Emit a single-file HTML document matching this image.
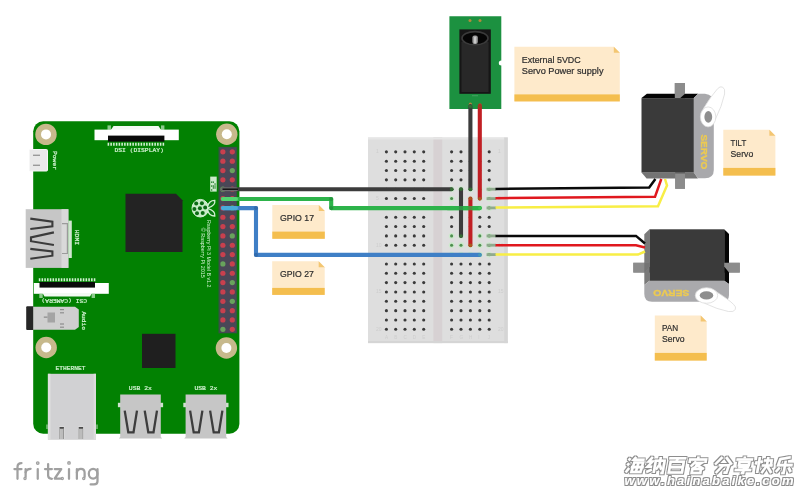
<!DOCTYPE html>
<html><head><meta charset="utf-8"><title>Pan Tilt wiring</title>
<style>html,body{margin:0;padding:0;background:#fff}svg{display:block;filter:blur(0.5px)}text{font-family:"Liberation Sans",sans-serif}.m{font-family:"Liberation Mono",monospace;font-size:6px;fill:#d2f2d2;stroke:#d2f2d2;stroke-width:0.22px}.s{font-size:5.1px;fill:#d0f0d0}.n{fill:#2e2e2e;stroke:#2e2e2e;stroke-width:0.22px}.sv{font-weight:bold;font-size:9.6px;fill:#ecca52;stroke:#ecca52;stroke-width:0.35px}</style></head><body>
<svg width="800" height="491" viewBox="0 0 800 491">
<rect width="800" height="491" fill="#ffffff"/>
<g id="bb">
<rect x="368" y="137.5" width="139.7" height="205.6" fill="#dedede"/>
<rect x="433.4" y="137.5" width="8.8" height="205.6" fill="#d7d1d3"/>
<rect x="368" y="137.5" width="139.7" height="2" fill="#e6e6e6"/>
<rect x="504.2" y="137.5" width="3.5" height="205.6" fill="#d5d5d5"/><rect x="368" y="341" width="139.7" height="2.1" fill="#d5d5d5"/>
<circle cx="386.4" cy="151.85" r="1.55" fill="#3a3a3a"/>
<circle cx="395.7" cy="151.85" r="1.55" fill="#3a3a3a"/>
<circle cx="405.0" cy="151.85" r="1.55" fill="#3a3a3a"/>
<circle cx="414.3" cy="151.85" r="1.55" fill="#3a3a3a"/>
<circle cx="423.7" cy="151.85" r="1.55" fill="#3a3a3a"/>
<circle cx="451.6" cy="151.85" r="1.55" fill="#3a3a3a"/>
<circle cx="461.0" cy="151.85" r="1.55" fill="#3a3a3a"/>
<circle cx="470.4" cy="151.85" r="1.55" fill="#3a3a3a"/>
<circle cx="479.8" cy="151.85" r="1.55" fill="#3a3a3a"/>
<circle cx="489.2" cy="151.85" r="1.55" fill="#3a3a3a"/>
<circle cx="386.4" cy="161.19" r="1.55" fill="#3a3a3a"/>
<circle cx="395.7" cy="161.19" r="1.55" fill="#3a3a3a"/>
<circle cx="405.0" cy="161.19" r="1.55" fill="#3a3a3a"/>
<circle cx="414.3" cy="161.19" r="1.55" fill="#3a3a3a"/>
<circle cx="423.7" cy="161.19" r="1.55" fill="#3a3a3a"/>
<circle cx="451.6" cy="161.19" r="1.55" fill="#3a3a3a"/>
<circle cx="461.0" cy="161.19" r="1.55" fill="#3a3a3a"/>
<circle cx="470.4" cy="161.19" r="1.55" fill="#3a3a3a"/>
<circle cx="479.8" cy="161.19" r="1.55" fill="#3a3a3a"/>
<circle cx="489.2" cy="161.19" r="1.55" fill="#3a3a3a"/>
<circle cx="386.4" cy="170.53" r="1.55" fill="#3a3a3a"/>
<circle cx="395.7" cy="170.53" r="1.55" fill="#3a3a3a"/>
<circle cx="405.0" cy="170.53" r="1.55" fill="#3a3a3a"/>
<circle cx="414.3" cy="170.53" r="1.55" fill="#3a3a3a"/>
<circle cx="423.7" cy="170.53" r="1.55" fill="#3a3a3a"/>
<circle cx="451.6" cy="170.53" r="1.55" fill="#3a3a3a"/>
<circle cx="461.0" cy="170.53" r="1.55" fill="#3a3a3a"/>
<circle cx="470.4" cy="170.53" r="1.55" fill="#3a3a3a"/>
<circle cx="479.8" cy="170.53" r="1.55" fill="#3a3a3a"/>
<circle cx="489.2" cy="170.53" r="1.55" fill="#3a3a3a"/>
<circle cx="386.4" cy="179.87" r="1.55" fill="#3a3a3a"/>
<circle cx="395.7" cy="179.87" r="1.55" fill="#3a3a3a"/>
<circle cx="405.0" cy="179.87" r="1.55" fill="#3a3a3a"/>
<circle cx="414.3" cy="179.87" r="1.55" fill="#3a3a3a"/>
<circle cx="423.7" cy="179.87" r="1.55" fill="#3a3a3a"/>
<circle cx="451.6" cy="179.87" r="1.55" fill="#3a3a3a"/>
<circle cx="461.0" cy="179.87" r="1.55" fill="#3a3a3a"/>
<circle cx="470.4" cy="179.87" r="1.55" fill="#3a3a3a"/>
<circle cx="479.8" cy="179.87" r="1.55" fill="#3a3a3a"/>
<circle cx="489.2" cy="179.87" r="1.55" fill="#3a3a3a"/>
<circle cx="386.4" cy="189.21" r="1.55" fill="#3a3a3a"/>
<circle cx="395.7" cy="189.21" r="1.55" fill="#3a3a3a"/>
<circle cx="405.0" cy="189.21" r="1.55" fill="#3a3a3a"/>
<circle cx="414.3" cy="189.21" r="1.55" fill="#3a3a3a"/>
<circle cx="423.7" cy="189.21" r="1.55" fill="#3a3a3a"/>
<circle cx="451.6" cy="189.21" r="2.9" fill="#cde8cd"/>
<circle cx="451.6" cy="189.21" r="1.55" fill="#4f8f4f"/>
<circle cx="461.0" cy="189.21" r="2.9" fill="#cde8cd"/>
<circle cx="461.0" cy="189.21" r="1.55" fill="#4f8f4f"/>
<circle cx="470.4" cy="189.21" r="2.9" fill="#cde8cd"/>
<circle cx="470.4" cy="189.21" r="1.55" fill="#4f8f4f"/>
<circle cx="479.8" cy="189.21" r="2.9" fill="#cde8cd"/>
<circle cx="479.8" cy="189.21" r="1.55" fill="#4f8f4f"/>
<circle cx="489.2" cy="189.21" r="2.9" fill="#cde8cd"/>
<circle cx="489.2" cy="189.21" r="1.55" fill="#4f8f4f"/>
<circle cx="386.4" cy="198.55" r="1.55" fill="#3a3a3a"/>
<circle cx="395.7" cy="198.55" r="1.55" fill="#3a3a3a"/>
<circle cx="405.0" cy="198.55" r="1.55" fill="#3a3a3a"/>
<circle cx="414.3" cy="198.55" r="1.55" fill="#3a3a3a"/>
<circle cx="423.7" cy="198.55" r="1.55" fill="#3a3a3a"/>
<circle cx="451.6" cy="198.55" r="2.9" fill="#cde8cd"/>
<circle cx="451.6" cy="198.55" r="1.55" fill="#4f8f4f"/>
<circle cx="461.0" cy="198.55" r="2.9" fill="#cde8cd"/>
<circle cx="461.0" cy="198.55" r="1.55" fill="#4f8f4f"/>
<circle cx="470.4" cy="198.55" r="2.9" fill="#cde8cd"/>
<circle cx="470.4" cy="198.55" r="1.55" fill="#4f8f4f"/>
<circle cx="479.8" cy="198.55" r="2.9" fill="#cde8cd"/>
<circle cx="479.8" cy="198.55" r="1.55" fill="#4f8f4f"/>
<circle cx="489.2" cy="198.55" r="2.9" fill="#cde8cd"/>
<circle cx="489.2" cy="198.55" r="1.55" fill="#4f8f4f"/>
<circle cx="386.4" cy="207.89" r="1.55" fill="#3a3a3a"/>
<circle cx="395.7" cy="207.89" r="1.55" fill="#3a3a3a"/>
<circle cx="405.0" cy="207.89" r="1.55" fill="#3a3a3a"/>
<circle cx="414.3" cy="207.89" r="1.55" fill="#3a3a3a"/>
<circle cx="423.7" cy="207.89" r="1.55" fill="#3a3a3a"/>
<circle cx="451.6" cy="207.89" r="2.9" fill="#cde8cd"/>
<circle cx="451.6" cy="207.89" r="1.55" fill="#4f8f4f"/>
<circle cx="461.0" cy="207.89" r="2.9" fill="#cde8cd"/>
<circle cx="461.0" cy="207.89" r="1.55" fill="#4f8f4f"/>
<circle cx="470.4" cy="207.89" r="2.9" fill="#cde8cd"/>
<circle cx="470.4" cy="207.89" r="1.55" fill="#4f8f4f"/>
<circle cx="479.8" cy="207.89" r="2.9" fill="#cde8cd"/>
<circle cx="479.8" cy="207.89" r="1.55" fill="#4f8f4f"/>
<circle cx="489.2" cy="207.89" r="2.9" fill="#cde8cd"/>
<circle cx="489.2" cy="207.89" r="1.55" fill="#4f8f4f"/>
<circle cx="386.4" cy="217.23" r="1.55" fill="#3a3a3a"/>
<circle cx="395.7" cy="217.23" r="1.55" fill="#3a3a3a"/>
<circle cx="405.0" cy="217.23" r="1.55" fill="#3a3a3a"/>
<circle cx="414.3" cy="217.23" r="1.55" fill="#3a3a3a"/>
<circle cx="423.7" cy="217.23" r="1.55" fill="#3a3a3a"/>
<circle cx="451.6" cy="217.23" r="1.55" fill="#3a3a3a"/>
<circle cx="461.0" cy="217.23" r="1.55" fill="#3a3a3a"/>
<circle cx="470.4" cy="217.23" r="1.55" fill="#3a3a3a"/>
<circle cx="479.8" cy="217.23" r="1.55" fill="#3a3a3a"/>
<circle cx="489.2" cy="217.23" r="1.55" fill="#3a3a3a"/>
<circle cx="386.4" cy="226.57" r="1.55" fill="#3a3a3a"/>
<circle cx="395.7" cy="226.57" r="1.55" fill="#3a3a3a"/>
<circle cx="405.0" cy="226.57" r="1.55" fill="#3a3a3a"/>
<circle cx="414.3" cy="226.57" r="1.55" fill="#3a3a3a"/>
<circle cx="423.7" cy="226.57" r="1.55" fill="#3a3a3a"/>
<circle cx="451.6" cy="226.57" r="1.55" fill="#3a3a3a"/>
<circle cx="461.0" cy="226.57" r="1.55" fill="#3a3a3a"/>
<circle cx="470.4" cy="226.57" r="1.55" fill="#3a3a3a"/>
<circle cx="479.8" cy="226.57" r="1.55" fill="#3a3a3a"/>
<circle cx="489.2" cy="226.57" r="1.55" fill="#3a3a3a"/>
<circle cx="386.4" cy="235.91" r="1.55" fill="#3a3a3a"/>
<circle cx="395.7" cy="235.91" r="1.55" fill="#3a3a3a"/>
<circle cx="405.0" cy="235.91" r="1.55" fill="#3a3a3a"/>
<circle cx="414.3" cy="235.91" r="1.55" fill="#3a3a3a"/>
<circle cx="423.7" cy="235.91" r="1.55" fill="#3a3a3a"/>
<circle cx="451.6" cy="235.91" r="2.9" fill="#cde8cd"/>
<circle cx="451.6" cy="235.91" r="1.55" fill="#4f8f4f"/>
<circle cx="461.0" cy="235.91" r="2.9" fill="#cde8cd"/>
<circle cx="461.0" cy="235.91" r="1.55" fill="#4f8f4f"/>
<circle cx="470.4" cy="235.91" r="2.9" fill="#cde8cd"/>
<circle cx="470.4" cy="235.91" r="1.55" fill="#4f8f4f"/>
<circle cx="479.8" cy="235.91" r="2.9" fill="#cde8cd"/>
<circle cx="479.8" cy="235.91" r="1.55" fill="#4f8f4f"/>
<circle cx="489.2" cy="235.91" r="2.9" fill="#cde8cd"/>
<circle cx="489.2" cy="235.91" r="1.55" fill="#4f8f4f"/>
<circle cx="386.4" cy="245.25" r="1.55" fill="#3a3a3a"/>
<circle cx="395.7" cy="245.25" r="1.55" fill="#3a3a3a"/>
<circle cx="405.0" cy="245.25" r="1.55" fill="#3a3a3a"/>
<circle cx="414.3" cy="245.25" r="1.55" fill="#3a3a3a"/>
<circle cx="423.7" cy="245.25" r="1.55" fill="#3a3a3a"/>
<circle cx="451.6" cy="245.25" r="2.9" fill="#cde8cd"/>
<circle cx="451.6" cy="245.25" r="1.55" fill="#4f8f4f"/>
<circle cx="461.0" cy="245.25" r="2.9" fill="#cde8cd"/>
<circle cx="461.0" cy="245.25" r="1.55" fill="#4f8f4f"/>
<circle cx="470.4" cy="245.25" r="2.9" fill="#cde8cd"/>
<circle cx="470.4" cy="245.25" r="1.55" fill="#4f8f4f"/>
<circle cx="479.8" cy="245.25" r="2.9" fill="#cde8cd"/>
<circle cx="479.8" cy="245.25" r="1.55" fill="#4f8f4f"/>
<circle cx="489.2" cy="245.25" r="2.9" fill="#cde8cd"/>
<circle cx="489.2" cy="245.25" r="1.55" fill="#4f8f4f"/>
<circle cx="386.4" cy="254.59" r="1.55" fill="#3a3a3a"/>
<circle cx="395.7" cy="254.59" r="1.55" fill="#3a3a3a"/>
<circle cx="405.0" cy="254.59" r="1.55" fill="#3a3a3a"/>
<circle cx="414.3" cy="254.59" r="1.55" fill="#3a3a3a"/>
<circle cx="423.7" cy="254.59" r="1.55" fill="#3a3a3a"/>
<circle cx="451.6" cy="254.59" r="2.9" fill="#cde8cd"/>
<circle cx="451.6" cy="254.59" r="1.55" fill="#4f8f4f"/>
<circle cx="461.0" cy="254.59" r="2.9" fill="#cde8cd"/>
<circle cx="461.0" cy="254.59" r="1.55" fill="#4f8f4f"/>
<circle cx="470.4" cy="254.59" r="2.9" fill="#cde8cd"/>
<circle cx="470.4" cy="254.59" r="1.55" fill="#4f8f4f"/>
<circle cx="479.8" cy="254.59" r="2.9" fill="#cde8cd"/>
<circle cx="479.8" cy="254.59" r="1.55" fill="#4f8f4f"/>
<circle cx="489.2" cy="254.59" r="2.9" fill="#cde8cd"/>
<circle cx="489.2" cy="254.59" r="1.55" fill="#4f8f4f"/>
<circle cx="386.4" cy="263.93" r="1.55" fill="#3a3a3a"/>
<circle cx="395.7" cy="263.93" r="1.55" fill="#3a3a3a"/>
<circle cx="405.0" cy="263.93" r="1.55" fill="#3a3a3a"/>
<circle cx="414.3" cy="263.93" r="1.55" fill="#3a3a3a"/>
<circle cx="423.7" cy="263.93" r="1.55" fill="#3a3a3a"/>
<circle cx="451.6" cy="263.93" r="1.55" fill="#3a3a3a"/>
<circle cx="461.0" cy="263.93" r="1.55" fill="#3a3a3a"/>
<circle cx="470.4" cy="263.93" r="1.55" fill="#3a3a3a"/>
<circle cx="479.8" cy="263.93" r="1.55" fill="#3a3a3a"/>
<circle cx="489.2" cy="263.93" r="1.55" fill="#3a3a3a"/>
<circle cx="386.4" cy="273.27" r="1.55" fill="#3a3a3a"/>
<circle cx="395.7" cy="273.27" r="1.55" fill="#3a3a3a"/>
<circle cx="405.0" cy="273.27" r="1.55" fill="#3a3a3a"/>
<circle cx="414.3" cy="273.27" r="1.55" fill="#3a3a3a"/>
<circle cx="423.7" cy="273.27" r="1.55" fill="#3a3a3a"/>
<circle cx="451.6" cy="273.27" r="1.55" fill="#3a3a3a"/>
<circle cx="461.0" cy="273.27" r="1.55" fill="#3a3a3a"/>
<circle cx="470.4" cy="273.27" r="1.55" fill="#3a3a3a"/>
<circle cx="479.8" cy="273.27" r="1.55" fill="#3a3a3a"/>
<circle cx="489.2" cy="273.27" r="1.55" fill="#3a3a3a"/>
<circle cx="386.4" cy="282.61" r="1.55" fill="#3a3a3a"/>
<circle cx="395.7" cy="282.61" r="1.55" fill="#3a3a3a"/>
<circle cx="405.0" cy="282.61" r="1.55" fill="#3a3a3a"/>
<circle cx="414.3" cy="282.61" r="1.55" fill="#3a3a3a"/>
<circle cx="423.7" cy="282.61" r="1.55" fill="#3a3a3a"/>
<circle cx="451.6" cy="282.61" r="1.55" fill="#3a3a3a"/>
<circle cx="461.0" cy="282.61" r="1.55" fill="#3a3a3a"/>
<circle cx="470.4" cy="282.61" r="1.55" fill="#3a3a3a"/>
<circle cx="479.8" cy="282.61" r="1.55" fill="#3a3a3a"/>
<circle cx="489.2" cy="282.61" r="1.55" fill="#3a3a3a"/>
<circle cx="386.4" cy="291.95" r="1.55" fill="#3a3a3a"/>
<circle cx="395.7" cy="291.95" r="1.55" fill="#3a3a3a"/>
<circle cx="405.0" cy="291.95" r="1.55" fill="#3a3a3a"/>
<circle cx="414.3" cy="291.95" r="1.55" fill="#3a3a3a"/>
<circle cx="423.7" cy="291.95" r="1.55" fill="#3a3a3a"/>
<circle cx="451.6" cy="291.95" r="1.55" fill="#3a3a3a"/>
<circle cx="461.0" cy="291.95" r="1.55" fill="#3a3a3a"/>
<circle cx="470.4" cy="291.95" r="1.55" fill="#3a3a3a"/>
<circle cx="479.8" cy="291.95" r="1.55" fill="#3a3a3a"/>
<circle cx="489.2" cy="291.95" r="1.55" fill="#3a3a3a"/>
<circle cx="386.4" cy="301.29" r="1.55" fill="#3a3a3a"/>
<circle cx="395.7" cy="301.29" r="1.55" fill="#3a3a3a"/>
<circle cx="405.0" cy="301.29" r="1.55" fill="#3a3a3a"/>
<circle cx="414.3" cy="301.29" r="1.55" fill="#3a3a3a"/>
<circle cx="423.7" cy="301.29" r="1.55" fill="#3a3a3a"/>
<circle cx="451.6" cy="301.29" r="1.55" fill="#3a3a3a"/>
<circle cx="461.0" cy="301.29" r="1.55" fill="#3a3a3a"/>
<circle cx="470.4" cy="301.29" r="1.55" fill="#3a3a3a"/>
<circle cx="479.8" cy="301.29" r="1.55" fill="#3a3a3a"/>
<circle cx="489.2" cy="301.29" r="1.55" fill="#3a3a3a"/>
<circle cx="386.4" cy="310.63" r="1.55" fill="#3a3a3a"/>
<circle cx="395.7" cy="310.63" r="1.55" fill="#3a3a3a"/>
<circle cx="405.0" cy="310.63" r="1.55" fill="#3a3a3a"/>
<circle cx="414.3" cy="310.63" r="1.55" fill="#3a3a3a"/>
<circle cx="423.7" cy="310.63" r="1.55" fill="#3a3a3a"/>
<circle cx="451.6" cy="310.63" r="1.55" fill="#3a3a3a"/>
<circle cx="461.0" cy="310.63" r="1.55" fill="#3a3a3a"/>
<circle cx="470.4" cy="310.63" r="1.55" fill="#3a3a3a"/>
<circle cx="479.8" cy="310.63" r="1.55" fill="#3a3a3a"/>
<circle cx="489.2" cy="310.63" r="1.55" fill="#3a3a3a"/>
<circle cx="386.4" cy="319.97" r="1.55" fill="#3a3a3a"/>
<circle cx="395.7" cy="319.97" r="1.55" fill="#3a3a3a"/>
<circle cx="405.0" cy="319.97" r="1.55" fill="#3a3a3a"/>
<circle cx="414.3" cy="319.97" r="1.55" fill="#3a3a3a"/>
<circle cx="423.7" cy="319.97" r="1.55" fill="#3a3a3a"/>
<circle cx="451.6" cy="319.97" r="1.55" fill="#3a3a3a"/>
<circle cx="461.0" cy="319.97" r="1.55" fill="#3a3a3a"/>
<circle cx="470.4" cy="319.97" r="1.55" fill="#3a3a3a"/>
<circle cx="479.8" cy="319.97" r="1.55" fill="#3a3a3a"/>
<circle cx="489.2" cy="319.97" r="1.55" fill="#3a3a3a"/>
<circle cx="386.4" cy="329.31" r="1.55" fill="#3a3a3a"/>
<circle cx="395.7" cy="329.31" r="1.55" fill="#3a3a3a"/>
<circle cx="405.0" cy="329.31" r="1.55" fill="#3a3a3a"/>
<circle cx="414.3" cy="329.31" r="1.55" fill="#3a3a3a"/>
<circle cx="423.7" cy="329.31" r="1.55" fill="#3a3a3a"/>
<circle cx="451.6" cy="329.31" r="1.55" fill="#3a3a3a"/>
<circle cx="461.0" cy="329.31" r="1.55" fill="#3a3a3a"/>
<circle cx="470.4" cy="329.31" r="1.55" fill="#3a3a3a"/>
<circle cx="479.8" cy="329.31" r="1.55" fill="#3a3a3a"/>
<circle cx="489.2" cy="329.31" r="1.55" fill="#3a3a3a"/>
<g fill="#cfcfcf" font-size="4.5" class="l">
<text x="376" y="153.3" font-size="5" fill="#cdcdcd">1</text>
<text x="498" y="153.3" font-size="5" fill="#cdcdcd">1</text>
<text x="376" y="200.1" font-size="5" fill="#cdcdcd">5</text>
<text x="498" y="200.1" font-size="5" fill="#cdcdcd">5</text>
<text x="376" y="246.8" font-size="5" fill="#cdcdcd">10</text>
<text x="498" y="246.8" font-size="5" fill="#cdcdcd">10</text>
<text x="376" y="293.4" font-size="5" fill="#cdcdcd">15</text>
<text x="498" y="293.4" font-size="5" fill="#cdcdcd">15</text>
<text x="376" y="330.8" font-size="5" fill="#cdcdcd">20</text>
<text x="498" y="330.8" font-size="5" fill="#cdcdcd">20</text>
<text x="384.9" y="338.5" font-size="4.6" fill="#cdcdcd">A</text>
<text x="394.2" y="338.5" font-size="4.6" fill="#cdcdcd">B</text>
<text x="403.5" y="338.5" font-size="4.6" fill="#cdcdcd">C</text>
<text x="412.8" y="338.5" font-size="4.6" fill="#cdcdcd">D</text>
<text x="422.2" y="338.5" font-size="4.6" fill="#cdcdcd">E</text>
<text x="450.1" y="338.5" font-size="4.6" fill="#cdcdcd">F</text>
<text x="459.5" y="338.5" font-size="4.6" fill="#cdcdcd">G</text>
<text x="468.9" y="338.5" font-size="4.6" fill="#cdcdcd">H</text>
<text x="478.3" y="338.5" font-size="4.6" fill="#cdcdcd">I</text>
<text x="487.7" y="338.5" font-size="4.6" fill="#cdcdcd">J</text>
</g>
</g>
<g id="pi">
<rect x="33.2" y="121.3" width="206.2" height="312.4" rx="10" fill="#028102"/>
<circle cx="46" cy="134.4" r="10.7" fill="#c7b98c"/><circle cx="46" cy="134.4" r="5" fill="#fff"/>
<circle cx="226.8" cy="134.2" r="10.7" fill="#c7b98c"/><circle cx="226.8" cy="134.2" r="5" fill="#fff"/>
<circle cx="46.2" cy="347.5" r="10.7" fill="#c7b98c"/><circle cx="46.2" cy="347.5" r="5" fill="#fff"/>
<circle cx="226.4" cy="348" r="10.7" fill="#c7b98c"/><circle cx="226.4" cy="348" r="5" fill="#fff"/>
<rect x="29.5" y="149.5" width="18" height="21.5" rx="1" fill="#e9e9e9" stroke="#f6f6f6" stroke-width="1"/>
<rect x="33" y="154.6" width="7" height="1.4" fill="#9a9a9a"/><rect x="33" y="164.6" width="7" height="1.4" fill="#9a9a9a"/>
<text class="m" transform="translate(53.2,151) rotate(90)" textLength="19" lengthAdjust="spacingAndGlyphs">Power</text>
<path d="M110.5 130.5L113.5 126H158.5L161.5 130.5Z" fill="#f2f9f2"/>
<rect x="107.5" y="125.4" width="3.4" height="4.4" fill="#a5d8a5" opacity="0.85"/><rect x="161" y="125.4" width="3.4" height="4.4" fill="#a5d8a5" opacity="0.85"/>
<rect x="94.5" y="129.6" width="84.3" height="10.6" fill="#ffffff"/>
<rect x="108" y="135.6" width="56.4" height="6" fill="#0a0a0a"/>
<line x1="107.6" y1="144.2" x2="164.4" y2="144.2" stroke="#d4f0d4" stroke-width="3" stroke-dasharray="1.55 1.2"/>
<text class="m" x="114.5" y="151.6" textLength="49.3" lengthAdjust="spacingAndGlyphs">DSI (DISPLAY)</text>
<path d="M125.5 193.8H176L182.5 200.3V252H125.5Z" fill="#232323"/>
<rect x="142" y="333.8" width="33.5" height="34.2" fill="#1f1f1f"/>
<rect x="25.7" y="209.2" width="42.7" height="58.7" fill="#c6c6c6"/>
<rect x="61.5" y="209.2" width="6.9" height="58.7" fill="#d9d9d9"/>
<rect x="68.4" y="220.6" width="3.4" height="37.4" fill="#d2e6d2"/>
<path d="M62 223.6H67.4V253.5H62" fill="none" stroke="#9b9b9b" stroke-width="1.2"/>
<g fill="none" stroke="#3b3b3b" stroke-width="2.1" stroke-linejoin="miter"><path d="M30.3 218.6L52.4 221.7V226.3L30.3 229"/><path d="M53.9 232.4L31 237.4V241.2L53.9 245"/><path d="M30.3 248.9L52.4 251.5V255.7L30.3 258.8"/></g>
<text class="m" transform="translate(74.6,229.8) rotate(90)" textLength="15.2" lengthAdjust="spacingAndGlyphs">HDMI</text>
<line x1="38.8" y1="279.7" x2="95.6" y2="279.7" stroke="#d4f0d4" stroke-width="3" stroke-dasharray="1.55 1.2"/>
<rect x="33.8" y="283" width="75" height="10.8" fill="#ffffff"/>
<rect x="39.5" y="282" width="55.5" height="5.6" fill="#0a0a0a"/>
<path d="M42.5 293L44.5 296.6H90L92 293Z" fill="#f2f9f2"/>
<rect x="39.3" y="293.8" width="3.4" height="4.2" fill="#a5d8a5" opacity="0.85"/><rect x="91.6" y="293.8" width="3.4" height="4.2" fill="#a5d8a5" opacity="0.85"/>
<text class="m" transform="translate(87,299.3) rotate(180)" textLength="45.5" lengthAdjust="spacingAndGlyphs">CSI (CAMERA)</text>
<rect x="26.2" y="306.3" width="7.6" height="23.7" rx="1" fill="#262626"/>
<path d="M33.2 306.8H75L78.8 309.6V327L75 329.8H33.2Z" fill="#cfcfcf"/>
<rect x="47.5" y="312.5" width="7.5" height="10" fill="#a4a4a4"/>
<g fill="#8e8e8e"><rect x="43.8" y="316.5" width="3.7" height="1.3"/><rect x="60" y="309" width="4" height="1.2"/><rect x="60" y="312.2" width="4" height="1.2"/><rect x="60" y="323.4" width="4" height="1.2"/><rect x="60" y="326.6" width="4" height="1.2"/></g>
<text class="m" transform="translate(82.3,311.4) rotate(90)" textLength="18.5" lengthAdjust="spacingAndGlyphs">Audio</text>
<text class="m" x="55.5" y="370.3" textLength="30" lengthAdjust="spacingAndGlyphs">ETHERNET</text>
<rect x="47.9" y="373.8" width="48.1" height="66" fill="#d1d1d3"/>
<rect x="47.9" y="373.8" width="2.6" height="66" fill="#dfdfdf"/><rect x="93.6" y="373.8" width="2.4" height="66" fill="#dcdcdc"/>
<rect x="46" y="424.5" width="2" height="4.5" fill="#9fcf9f" opacity="0.6"/><rect x="96" y="424.5" width="2" height="4.5" fill="#9fcf9f" opacity="0.6"/>
<rect x="58.9" y="426.4" width="5.6" height="12.6" fill="#dedede"/><rect x="59.5" y="427" width="4.4" height="1.8" fill="#4a4a4a"/><rect x="59.4" y="429" width="0.9" height="10" fill="#8a8a8a"/><rect x="63.1" y="429" width="0.9" height="10" fill="#8a8a8a"/><rect x="60.3" y="429" width="2.8" height="10" fill="#bcbcbc"/>
<rect x="78.1" y="426.4" width="5.6" height="12.6" fill="#dedede"/><rect x="78.69999999999999" y="427" width="4.4" height="1.8" fill="#4a4a4a"/><rect x="78.6" y="429" width="0.9" height="10" fill="#8a8a8a"/><rect x="82.3" y="429" width="0.9" height="10" fill="#8a8a8a"/><rect x="79.5" y="429" width="2.8" height="10" fill="#bcbcbc"/>
<text class="m" x="128.8" y="389.6" textLength="23" lengthAdjust="spacingAndGlyphs">USB 2x</text>
<rect x="117.9" y="402.8" width="45.2" height="4.4" fill="#cfe2cf"/>
<path d="M120.2 394.4H160.8V436.9L162.2 438.6H118.8L120.2 436.9Z" fill="#c6c6c6"/>
<path d="M124.7 410.6L128.3 432.4H133.5L137.0 410.6" fill="none" stroke="#3d3d3d" stroke-width="2.3"/>
<path d="M144.7 410.6L148.3 432.4H153.5L157.0 410.6" fill="none" stroke="#3d3d3d" stroke-width="2.3"/>
<text class="m" x="194.4" y="389.6" textLength="23" lengthAdjust="spacingAndGlyphs">USB 2x</text>
<rect x="183.29999999999998" y="402.8" width="45.2" height="4.4" fill="#cfe2cf"/>
<path d="M185.6 394.4H226.2V436.9L227.6 438.6H184.2L185.6 436.9Z" fill="#c6c6c6"/>
<path d="M190.1 410.6L193.7 432.4H198.9L202.4 410.6" fill="none" stroke="#3d3d3d" stroke-width="2.3"/>
<path d="M210.1 410.6L213.7 432.4H218.9L222.4 410.6" fill="none" stroke="#3d3d3d" stroke-width="2.3"/>
<text class="s" transform="translate(207,220) rotate(90)" textLength="67.5" lengthAdjust="spacingAndGlyphs">Raspberry Pi 3 Model B v1.2</text>
<text class="s" transform="translate(201,227.8) rotate(90)" textLength="50" lengthAdjust="spacingAndGlyphs">© Raspberry Pi 2015</text>
<rect x="210.2" y="176.6" width="6.5" height="15" fill="#cdeacd"/>
<g fill="#1a7a22">
<rect x="211.0" y="181.5" width="1.3" height="1.3"/>
<rect x="212.7" y="181.5" width="1.3" height="1.3"/>
<rect x="214.4" y="183.4" width="1.3" height="1.3"/>
<rect x="211.0" y="185.4" width="1.3" height="1.3"/>
<rect x="212.7" y="185.4" width="1.3" height="1.3"/>
<rect x="214.4" y="185.4" width="1.3" height="1.3"/>
<rect x="212.7" y="187.3" width="1.3" height="1.3"/>
<rect x="214.4" y="187.3" width="1.3" height="1.3"/>
<rect x="211.0" y="189.3" width="1.3" height="1.3"/>
</g>
<g stroke="#d4f0d4" stroke-width="1">
<ellipse cx="200.3" cy="208.2" rx="8.3" ry="8.8" fill="#c6ebc6" stroke-width="1"/>
<circle cx="196.2" cy="203.6" r="2" fill="#0b6b14" stroke="none"/>
<circle cx="201.9" cy="203.2" r="2" fill="#0b6b14" stroke="none"/>
<circle cx="194.4" cy="208.9" r="2" fill="#0b6b14" stroke="none"/>
<circle cx="199.9" cy="208.3" r="2" fill="#0b6b14" stroke="none"/>
<circle cx="205.2" cy="207.6" r="2" fill="#0b6b14" stroke="none"/>
<circle cx="197" cy="213.3" r="2" fill="#0b6b14" stroke="none"/>
<circle cx="202.7" cy="213" r="2" fill="#0b6b14" stroke="none"/>
<path d="M207.6 206.6Q209 200.3 214.8 200.4Q215.6 205.6 208.2 207.8Z" fill="#0b7a14" stroke-width="1.3"/>
<path d="M207.6 209.8Q209 216.1 214.8 216Q215.6 210.8 208.2 208.6Z" fill="#0b7a14" stroke-width="1.3"/>
</g>
<rect x="218.4" y="146.8" width="18.8" height="186.6" fill="#2f5a3a"/>
<rect x="219.5" y="147.4" width="16.7" height="185.4" fill="#4a4757"/>
<circle cx="222.9" cy="151.85" r="2.6" fill="#c8404e"/>
<circle cx="232.3" cy="151.85" r="2.6" fill="#c8404e"/>
<circle cx="222.9" cy="161.19" r="2.6" fill="#c8404e"/>
<circle cx="232.3" cy="161.19" r="2.6" fill="#c8404e"/>
<circle cx="222.9" cy="170.53" r="2.6" fill="#c8404e"/>
<circle cx="232.3" cy="170.53" r="2.6" fill="#68a35c"/>
<circle cx="222.9" cy="179.87" r="2.6" fill="#c8404e"/>
<circle cx="232.3" cy="179.87" r="2.6" fill="#c8404e"/>
<circle cx="222.9" cy="189.21" r="2.6" fill="#68a35c"/>
<circle cx="232.3" cy="189.21" r="2.6" fill="#c8404e"/>
<circle cx="222.9" cy="198.55" r="2.6" fill="#c8404e"/>
<circle cx="232.3" cy="198.55" r="2.6" fill="#c8404e"/>
<circle cx="222.9" cy="207.89" r="2.6" fill="#c8404e"/>
<circle cx="232.3" cy="207.89" r="2.6" fill="#68a35c"/>
<circle cx="222.9" cy="217.23" r="2.6" fill="#c8404e"/>
<circle cx="232.3" cy="217.23" r="2.6" fill="#c8404e"/>
<circle cx="222.9" cy="226.57" r="2.6" fill="#c8404e"/>
<circle cx="232.3" cy="226.57" r="2.6" fill="#c8404e"/>
<circle cx="222.9" cy="235.91" r="2.6" fill="#c8404e"/>
<circle cx="232.3" cy="235.91" r="2.6" fill="#68a35c"/>
<circle cx="222.9" cy="245.25" r="2.6" fill="#c8404e"/>
<circle cx="232.3" cy="245.25" r="2.6" fill="#c8404e"/>
<circle cx="222.9" cy="254.59" r="2.6" fill="#c8404e"/>
<circle cx="232.3" cy="254.59" r="2.6" fill="#c8404e"/>
<circle cx="222.9" cy="263.93" r="2.6" fill="#68a35c"/>
<circle cx="232.3" cy="263.93" r="2.6" fill="#c8404e"/>
<circle cx="222.9" cy="273.27" r="2.6" fill="#c8404e"/>
<circle cx="232.3" cy="273.27" r="2.6" fill="#c8404e"/>
<circle cx="222.9" cy="282.61" r="2.6" fill="#c8404e"/>
<circle cx="232.3" cy="282.61" r="2.6" fill="#68a35c"/>
<circle cx="222.9" cy="291.95" r="2.6" fill="#c8404e"/>
<circle cx="232.3" cy="291.95" r="2.6" fill="#c8404e"/>
<circle cx="222.9" cy="301.29" r="2.6" fill="#c8404e"/>
<circle cx="232.3" cy="301.29" r="2.6" fill="#68a35c"/>
<circle cx="222.9" cy="310.63" r="2.6" fill="#c8404e"/>
<circle cx="232.3" cy="310.63" r="2.6" fill="#c8404e"/>
<circle cx="222.9" cy="319.97" r="2.6" fill="#c8404e"/>
<circle cx="232.3" cy="319.97" r="2.6" fill="#c8404e"/>
<circle cx="222.9" cy="329.31" r="2.6" fill="#68a35c"/>
<circle cx="232.3" cy="329.31" r="2.6" fill="#c8404e"/>
</g>
<g id="jack">
<path d="M449.4 16.3H501.3V60.6A2.5 2.5 0 0 0 501.3 65.6V109H449.4Z" fill="#1c9140"/>
<circle cx="470" cy="20.6" r="1.5" fill="#b08a3c"/><circle cx="480" cy="20.6" r="1.5" fill="#b08a3c"/>
<circle cx="470.4" cy="104.2" r="1.6" fill="#b08a3c"/><circle cx="480" cy="104.6" r="1.6" fill="#8a5a2c"/>
<rect x="459.4" y="29.4" width="31.4" height="64.4" fill="#161616"/>
<rect x="461.5" y="42" width="27" height="50" fill="#282828"/>
<ellipse cx="475" cy="38.2" rx="13" ry="6.6" fill="#050505" stroke="#3a3a3a" stroke-width="1.6"/>
<rect x="472.4" y="35.6" width="5.4" height="8.4" rx="2" fill="#9a9a9a"/>
<rect x="474" y="36.4" width="2.2" height="7" rx="1" fill="#c8c8c8"/>
<rect x="472" y="95.3" width="6" height="0.9" fill="#4aa366"/>
</g>
<g class="note">
<path d="M514.4 46.7H613.8L619.8 52.7V101.4H514.4Z" fill="#feeacb"/>
<path d="M613.8 46.7L619.8 52.7H613.8Z" fill="#f3c672"/>
<rect x="514.4" y="94.4" width="105.4" height="7" fill="#f4be4e"/>
<text class="n" x="521.8" y="63.0" font-size="9.9" textLength="58.9" lengthAdjust="spacingAndGlyphs">External 5VDC</text>
<text class="n" x="521.8" y="74.4" font-size="9.9" textLength="81.7" lengthAdjust="spacingAndGlyphs">Servo Power supply</text>
</g>
<g class="note">
<path d="M272.3 205H318.8L324.8 211V238.8H272.3Z" fill="#feeacb"/>
<path d="M318.8 205L324.8 211H318.8Z" fill="#f3c672"/>
<rect x="272.3" y="231.60000000000002" width="52.5" height="7.2" fill="#f4be4e"/>
<text class="n" x="280" y="220.6" font-size="9.9" textLength="34" lengthAdjust="spacingAndGlyphs">GPIO 17</text>
</g>
<g class="note">
<path d="M272.2 261.2H318.7L324.7 267.2V294.9H272.2Z" fill="#feeacb"/>
<path d="M318.7 261.2L324.7 267.2H318.7Z" fill="#f3c672"/>
<rect x="272.2" y="287.9" width="52.5" height="7.0" fill="#f4be4e"/>
<text class="n" x="280" y="277.1" font-size="9.9" textLength="33.8" lengthAdjust="spacingAndGlyphs">GPIO 27</text>
</g>
<g class="note">
<path d="M723.3 129.8H769.4L775.4 135.8V175.60000000000002H723.3Z" fill="#feeacb"/>
<path d="M769.4 129.8L775.4 135.8H769.4Z" fill="#f3c672"/>
<rect x="723.3" y="167.90000000000003" width="52.1" height="7.7" fill="#f4be4e"/>
<text class="n" x="730.6" y="145.9" font-size="9.9" textLength="15.6" lengthAdjust="spacingAndGlyphs">TILT</text>
<text class="n" x="730.6" y="156.7" font-size="9.9" textLength="22.6" lengthAdjust="spacingAndGlyphs">Servo</text>
</g>
<g class="note">
<path d="M654.8 315.4H700.6999999999999L706.6999999999999 321.4V360.59999999999997H654.8Z" fill="#feeacb"/>
<path d="M700.6999999999999 315.4L706.6999999999999 321.4H700.6999999999999Z" fill="#f3c672"/>
<rect x="654.8" y="352.9" width="51.9" height="7.7" fill="#f4be4e"/>
<text class="n" x="662" y="330.6" font-size="9.9" textLength="16.2" lengthAdjust="spacingAndGlyphs">PAN</text>
<text class="n" x="662" y="341.6" font-size="9.9" textLength="22.6" lengthAdjust="spacingAndGlyphs">Servo</text>
</g>
<g id="tilt">
<rect x="674.8" y="83.1" width="10.2" height="18" fill="#8c8c8c"/>
<rect x="675.2" y="172" width="9.8" height="16.8" fill="#8c8c8c"/>
<path d="M641.5 98.1L646.9 93.8H698.1L693.8 98.1Z" fill="#050505"/>
<path d="M674.8 83.1H685V93.8L678 100H674.8Z" fill="#8c8c8c"/>
<path d="M698.1 93.8H705Q713.8 94.5 713.8 104V170Q713.8 178 705 178.3H698L693.8 172.5V98.1Z" fill="#a9a9ac"/>
<path d="M641.5 172.5H693.8L698 178.6H646.6Z" fill="#747474"/>
<rect x="641.5" y="98.1" width="52.3" height="74.4" fill="#3a3a3a"/>
<rect x="675.2" y="174" width="9.8" height="14.8" fill="#8c8c8c"/>
<text transform="translate(701.3,134.4) rotate(90)" class="sv" textLength="35" lengthAdjust="spacingAndGlyphs">SERVO</text>
<path d="M703.5 108.5Q711 96 717.5 88.8Q720 86 722.5 87Q725.5 88.5 724.6 94Q722 106 715.5 119Z" fill="#ffffff" stroke="#dcdcdc" stroke-width="0.8"/>
<ellipse cx="708.1" cy="116.9" rx="7.7" ry="10" fill="#ffffff" stroke="#dcdcdc" stroke-width="0.8"/>
<ellipse cx="708.3" cy="116.9" rx="3.9" ry="5.9" fill="#8e8e8e"/>
</g>
<g id="pan">
<rect x="633.3" y="262.8" width="20" height="9.8" fill="#8c8c8c"/>
<rect x="722" y="262.8" width="17.8" height="9.8" fill="#8c8c8c"/>
<path d="M649.5 229.3L644.3 234.3V285L649.5 280.8Z" fill="#7a7a7a"/>
<path d="M724.2 229.3L729 234V284L724.2 280.8Z" fill="#050505"/>
<path d="M644.3 285L649.5 280.8H724.2L729 284V295Q729 301.8 722 301.8H652Q644.3 301.8 644.3 294Z" fill="#a9a9ac"/>
<rect x="649.5" y="229.3" width="74.7" height="51.5" fill="#3a3a3a"/>
<path d="M633.3 262.8H649.5V266.6L645 272.6H633.3Z" fill="#8c8c8c"/><path d="M644.3 262.8H649.5V266.6L645 272.6H644.3Z" fill="#747474"/>
<path d="M724.2 262.8H739.8V272.6H729L724.2 266.6Z" fill="#8c8c8c"/>
<text transform="translate(689.3,289.7) rotate(180)" class="sv" font-size="7.8" textLength="36" lengthAdjust="spacingAndGlyphs">SERVO</text>
<path d="M714.9 290.9Q727.4 298.4 733.6 304.4Q736.4 306.9 735.4 309.4Q733.9 312.4 728.4 311.5Q717.4 309.4 704.4 303.2Z" fill="#ffffff" stroke="#dcdcdc" stroke-width="0.8"/>
<ellipse cx="706.5" cy="295.5" rx="11.2" ry="7.8" fill="#ffffff" stroke="#dcdcdc" stroke-width="0.8"/>
<ellipse cx="706.5" cy="295.4" rx="6.8" ry="4.2" fill="#8e8e8e"/>
</g>
<g id="wires" fill="none" stroke-linecap="round" stroke-linejoin="round" stroke-width="4.1">
<path d="M222.9 189.2H451.6" stroke="#3c3c3c"/>
<path d="M222.9 199.0H331.2V208.1H479.8" stroke="#2db34a"/>
<path d="M222.9 208.1H256V254.9H479.8" stroke="#3f7fc6"/>
<path d="M461.0 189.2V235.9" stroke="#3c3c3c"/>
<path d="M470.4 198.6V245.2" stroke="#c11f24"/>
<path d="M470.4 106V189.2" stroke="#3c3c3c"/>
<path d="M479.8 106V198.6" stroke="#c11f24"/>
<path d="M447.6 208.1H479.8" stroke="#2db34a" opacity="0.72"/>
</g>
<circle cx="331.2" cy="199.0" r="2.1" fill="#1f8f38" opacity="0.7"/>
<circle cx="331.2" cy="208.1" r="2.1" fill="#1f8f38" opacity="0.7"/>
<circle cx="256" cy="208.1" r="2.1" fill="#2c62a3" opacity="0.7"/>
<circle cx="256" cy="254.9" r="2.1" fill="#2c62a3" opacity="0.7"/>
<path d="M222.9 189.2H236" stroke="#6f6f70" stroke-width="4.1" stroke-linecap="round" fill="none"/>
<path d="M222.5 189.2H238" stroke="#111" stroke-width="1.5" fill="none"/>
<path d="M222.9 199.0H236" stroke="#52d670" stroke-width="4.1" stroke-linecap="round" fill="none"/>
<path d="M222.9 208.1H236" stroke="#48abd9" stroke-width="4.1" stroke-linecap="round" fill="none"/>
<circle cx="451.6" cy="189.2" r="1.7" fill="#2f7a2f" opacity="0.8"/>
<circle cx="461.0" cy="189.2" r="1.7" fill="#2f7a2f" opacity="0.8"/>
<circle cx="461.0" cy="235.9" r="1.7" fill="#2f7a2f" opacity="0.8"/>
<circle cx="470.4" cy="189.2" r="1.7" fill="#2f7a2f" opacity="0.8"/>
<circle cx="470.4" cy="198.6" r="1.7" fill="#a06a1c" opacity="0.8"/>
<circle cx="470.4" cy="245.2" r="1.7" fill="#a06a1c" opacity="0.8"/>
<circle cx="479.8" cy="198.6" r="1.7" fill="#a06a1c" opacity="0.8"/>
<circle cx="479.8" cy="208.1" r="1.7" fill="#3fc455" opacity="0.8"/>
<circle cx="479.8" cy="254.9" r="1.7" fill="#46a0b0" opacity="0.8"/>
<circle cx="470.4" cy="106.5" r="1.7" fill="#2f7a2f" opacity="0.8"/>
<circle cx="479.8" cy="106.5" r="1.7" fill="#8a4a1c" opacity="0.8"/>
<g id="swires" fill="none" stroke-linejoin="miter" stroke-width="2.5">
<rect x="486.6" y="187.8" width="9.5" height="2.8" fill="#8faa8d" stroke="none"/>
<rect x="486.6" y="197.2" width="9.5" height="2.8" fill="#8faa8d" stroke="none"/>
<rect x="486.6" y="206.5" width="9.5" height="2.8" fill="#8faa8d" stroke="none"/>
<rect x="486.6" y="234.5" width="9.5" height="2.8" fill="#8faa8d" stroke="none"/>
<rect x="486.6" y="243.8" width="9.5" height="2.8" fill="#8faa8d" stroke="none"/>
<rect x="486.6" y="253.2" width="9.5" height="2.8" fill="#8faa8d" stroke="none"/>
<path d="M495.5 188.9L649.2 187.6L655.4 179" stroke="#0a0a0a"/>
<path d="M495.5 198.2L655 196.8L661.3 179" stroke="#e0181e"/>
<path d="M495.5 207.6L658 206.2L667 185.5L665 179" stroke="#f8ee45"/>
<path d="M495.5 235.9H636L645 243.5" stroke="#0a0a0a"/>
<path d="M495.5 245.2H636L645 247.5" stroke="#e0181e"/>
<path d="M495.5 254.6H638L645 251.5" stroke="#f8ee45"/>
</g>
<g id="fz" fill="none" stroke="#a0a0a0" stroke-width="2.25" stroke-linecap="round" stroke-linejoin="round">
<path d="M17.50 478.75V466.88Q17.50 463.12 21.50 463.12"/><path d="M14.38 469.00H21.50"/>
<path d="M25.62 469.00V476.88"/><path d="M25.62 472.25Q26.50 468.75 30.62 468.75"/><circle cx="25.00" cy="478.50" r="1.1" stroke-width="1.3"/>
<path d="M37.75 469.00V478.75"/><circle cx="37.75" cy="463.12" r="1.2" stroke-width="1.4"/>
<path d="M48.12 464.00V475.62Q48.12 478.75 51.88 478.75"/><path d="M45.00 469.00H51.88"/>
<path d="M54.75 469.00H61.25L54.75 478.50H60.62"/><circle cx="62.25" cy="478.50" r="1.1" stroke-width="1.3"/>
<path d="M69.00 469.00V478.75"/><circle cx="69.00" cy="462.88" r="1.2" stroke-width="1.4"/>
<path d="M76.88 469.00V478.75"/><path d="M76.88 472.50Q77.50 468.75 80.88 468.75Q84.62 468.75 84.62 472.75V476.88"/><circle cx="83.75" cy="478.50" r="1.1" stroke-width="1.3"/>
<ellipse cx="93.12" cy="473.75" rx="4.3" ry="4.9"/><path d="M97.50 469.00V481.25Q97.50 484.38 94.00 484.38H90.62"/>
</g>
<defs><filter id="wmf" x="-5%" y="-30%" width="110%" height="160%"><feMorphology in="SourceAlpha" operator="dilate" radius="0.6" result="d"/><feGaussianBlur in="d" stdDeviation="0.6" result="b"/><feOffset in="b" dx="0.35" dy="0.35" result="o"/><feFlood flood-color="#707070" flood-opacity="0.8"/><feComposite in2="o" operator="in" result="s"/><feMerge><feMergeNode in="s"/><feMergeNode in="SourceGraphic"/></feMerge></filter></defs>
<g id="wm" filter="url(#wmf)">
<g fill="none" stroke="#ffffff" stroke-width="2.6" stroke-linejoin="miter" stroke-linecap="butt">
<g transform="translate(628,456.6) skewX(-10) scale(0.98,0.99)">
<path d="M1 2L3.2 3.6"/>
<path d="M0.5 7L2.7 8.6"/>
<path d="M0.5 16L3.2 11.5"/>
<path d="M8.5 0.5L6.5 3.2H17.5"/>
<path d="M7.5 6H16.5L15.5 15.5H6.2Z"/>
<path d="M4.8 10.6H18"/>
<path d="M11.8 6L10.8 15.5"/>
</g>
<g transform="translate(648.5,456.6) skewX(-10) scale(0.98,0.99)">
<path d="M4.5 0.5L1.2 5H5L0.8 10.2H5.5"/>
<path d="M0.5 15.5L5.8 13.2"/>
<path d="M8.2 16.5V4.2H17.2V16.5H15"/>
<path d="M12.7 0.5V8L9.8 13.2"/>
<path d="M12.7 8L15.6 13.2"/>
</g>
<g transform="translate(669,456.6) skewX(-10) scale(0.98,0.99)">
<path d="M0.5 1.6H18"/>
<path d="M9.6 1.6L8.4 5.2"/>
<path d="M2.6 5.2H16V16H2.6Z"/>
<path d="M2.6 10.6H16"/>
</g>
<g transform="translate(689.5,456.6) skewX(-10) scale(0.98,0.99)">
<path d="M9.2 0V2.4"/>
<path d="M1.2 6.4V3H17.4V6.4"/>
<path d="M7.6 4.8L3 10"/>
<path d="M7 6.4H13.4L5 12.6"/>
<path d="M7.6 8L16.8 12.6"/>
<path d="M5.2 12.6H14V16.6H5.2Z"/>
</g>
<g transform="translate(715.5,456.6) skewX(-10) scale(0.98,0.99)">
<path d="M7.2 0.5L1 8"/>
<path d="M11 0.5L18 8"/>
<path d="M4.8 8.8H15.2L14 16.2H11"/>
<path d="M9.4 8.8L3.2 16.6"/>
</g>
<g transform="translate(736,456.6) skewX(-10) scale(0.98,0.99)">
<path d="M9.2 0V2"/>
<path d="M1 3H18"/>
<path d="M4.6 5.2H14.6V8.6H4.6Z"/>
<path d="M4.2 10.6H15L10.2 12.8V16.6H7.8"/>
<path d="M1 13.6H18"/>
</g>
<g transform="translate(756.5,456.6) skewX(-10) scale(0.98,0.99)">
<path d="M3.6 0.5V16.6"/>
<path d="M1.2 4.8L0.6 8"/>
<path d="M5.6 4L6.6 6.6"/>
<path d="M8.2 4H16.2V9"/>
<path d="M7 9H18"/>
<path d="M12.2 0.5V9L8 16.6"/>
<path d="M12.2 9L18 16.6"/>
</g>
<g transform="translate(776.5,456.6) skewX(-10) scale(0.98,0.99)">
<path d="M14.6 0.6L4.4 2.6L3.2 8.6H18"/>
<path d="M10.2 4.2V16.6H7.8"/>
<path d="M5.2 11L2 15.6"/>
<path d="M14.2 11L17.2 15.6"/>
</g>
</g>
<text x="624.5" y="485.2" font-weight="bold" font-style="italic" font-size="13" fill="#ffffff" textLength="169" lengthAdjust="spacing">www.hainabaike.com</text>
</g>
</svg></body></html>
